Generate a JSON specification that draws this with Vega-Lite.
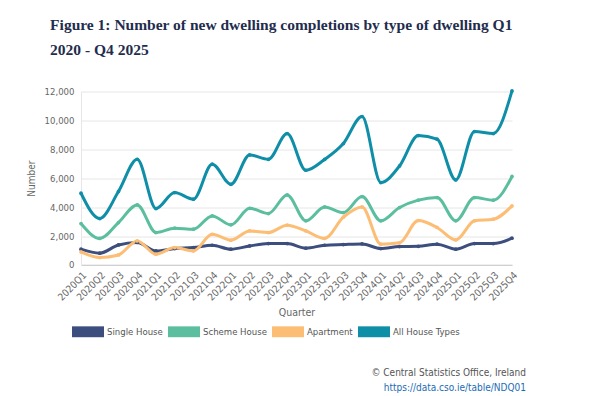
{
  "$schema": "https://vega.github.io/schema/vega-lite/v6.json",
  "background": "white",
  "padding": {"left": 26, "top": 17.5, "right": 10, "bottom": 5},
  "title": {
    "text": ["Figure 1: Number of new dwelling completions by type of dwelling Q1", "2020 - Q4 2025"],
    "anchor": "start",
    "frame": "bounds",
    "font": "Liberation Serif",
    "fontSize": 15.5,
    "fontWeight": "bold",
    "color": "#1f2d4e",
    "lineHeight": 25,
    "dx": 24,
    "offset": 26.5
  },
  "config": {
    "font": "DejaVu Sans Condensed, Liberation Sans",
    "view": {"stroke": null},
    "axis": {"labelFont": "DejaVu Sans Condensed, Liberation Sans", "titleFont": "DejaVu Sans Condensed, Liberation Sans", "labelColor": "#666666", "titleColor": "#666666", "labelFontSize": 9.5, "titleFontSize": 10, "titleFontWeight": "normal"}
  },
  "vconcat": [
    {
      "width": 431,
      "height": 173.4,
      "title": {
        "text": "© Central Statistics Office, Ireland",
        "subtitle": "https://data.cso.ie/table/NDQ01",
        "orient": "bottom",
        "anchor": "end",
        "frame": "group",
        "dx": 14,
        "offset": 50,
        "font": "DejaVu Sans Condensed, Liberation Sans",
        "fontSize": 10,
        "fontWeight": "normal",
        "color": "#555555",
        "subtitleFont": "DejaVu Sans Condensed, Liberation Sans",
        "subtitleFontSize": 10,
        "subtitleColor": "#1a6cb5",
        "subtitlePadding": 5
      },
      "data": {
        "values": [
          {"Quarter": "2020Q1", "Type": "Single House", "Number": 1090},
          {"Quarter": "2020Q2", "Type": "Single House", "Number": 810},
          {"Quarter": "2020Q3", "Type": "Single House", "Number": 1380},
          {"Quarter": "2020Q4", "Type": "Single House", "Number": 1550},
          {"Quarter": "2021Q1", "Type": "Single House", "Number": 970},
          {"Quarter": "2021Q2", "Type": "Single House", "Number": 1130},
          {"Quarter": "2021Q3", "Type": "Single House", "Number": 1200},
          {"Quarter": "2021Q4", "Type": "Single House", "Number": 1360},
          {"Quarter": "2022Q1", "Type": "Single House", "Number": 1090},
          {"Quarter": "2022Q2", "Type": "Single House", "Number": 1310},
          {"Quarter": "2022Q3", "Type": "Single House", "Number": 1480},
          {"Quarter": "2022Q4", "Type": "Single House", "Number": 1480},
          {"Quarter": "2023Q1", "Type": "Single House", "Number": 1160},
          {"Quarter": "2023Q2", "Type": "Single House", "Number": 1360},
          {"Quarter": "2023Q3", "Type": "Single House", "Number": 1410},
          {"Quarter": "2023Q4", "Type": "Single House", "Number": 1450},
          {"Quarter": "2024Q1", "Type": "Single House", "Number": 1130},
          {"Quarter": "2024Q2", "Type": "Single House", "Number": 1270},
          {"Quarter": "2024Q3", "Type": "Single House", "Number": 1290},
          {"Quarter": "2024Q4", "Type": "Single House", "Number": 1430},
          {"Quarter": "2025Q1", "Type": "Single House", "Number": 1090},
          {"Quarter": "2025Q2", "Type": "Single House", "Number": 1480},
          {"Quarter": "2025Q3", "Type": "Single House", "Number": 1480},
          {"Quarter": "2025Q4", "Type": "Single House", "Number": 1850},
          {"Quarter": "2020Q1", "Type": "Scheme House", "Number": 2860},
          {"Quarter": "2020Q2", "Type": "Scheme House", "Number": 1830},
          {"Quarter": "2020Q3", "Type": "Scheme House", "Number": 2930},
          {"Quarter": "2020Q4", "Type": "Scheme House", "Number": 4150},
          {"Quarter": "2021Q1", "Type": "Scheme House", "Number": 2240},
          {"Quarter": "2021Q2", "Type": "Scheme House", "Number": 2540},
          {"Quarter": "2021Q3", "Type": "Scheme House", "Number": 2470},
          {"Quarter": "2021Q4", "Type": "Scheme House", "Number": 3390},
          {"Quarter": "2022Q1", "Type": "Scheme House", "Number": 2770},
          {"Quarter": "2022Q2", "Type": "Scheme House", "Number": 3920},
          {"Quarter": "2022Q3", "Type": "Scheme House", "Number": 3550},
          {"Quarter": "2022Q4", "Type": "Scheme House", "Number": 4840},
          {"Quarter": "2023Q1", "Type": "Scheme House", "Number": 3050},
          {"Quarter": "2023Q2", "Type": "Scheme House", "Number": 4010},
          {"Quarter": "2023Q3", "Type": "Scheme House", "Number": 3620},
          {"Quarter": "2023Q4", "Type": "Scheme House", "Number": 4730},
          {"Quarter": "2024Q1", "Type": "Scheme House", "Number": 3050},
          {"Quarter": "2024Q2", "Type": "Scheme House", "Number": 3970},
          {"Quarter": "2024Q3", "Type": "Scheme House", "Number": 4480},
          {"Quarter": "2024Q4", "Type": "Scheme House", "Number": 4660},
          {"Quarter": "2025Q1", "Type": "Scheme House", "Number": 3050},
          {"Quarter": "2025Q2", "Type": "Scheme House", "Number": 4660},
          {"Quarter": "2025Q3", "Type": "Scheme House", "Number": 4480},
          {"Quarter": "2025Q4", "Type": "Scheme House", "Number": 6120},
          {"Quarter": "2020Q1", "Type": "Apartment", "Number": 900},
          {"Quarter": "2020Q2", "Type": "Apartment", "Number": 510},
          {"Quarter": "2020Q3", "Type": "Apartment", "Number": 690},
          {"Quarter": "2020Q4", "Type": "Apartment", "Number": 1660},
          {"Quarter": "2021Q1", "Type": "Apartment", "Number": 740},
          {"Quarter": "2021Q2", "Type": "Apartment", "Number": 1200},
          {"Quarter": "2021Q3", "Type": "Apartment", "Number": 970},
          {"Quarter": "2021Q4", "Type": "Apartment", "Number": 2120},
          {"Quarter": "2022Q1", "Type": "Apartment", "Number": 1710},
          {"Quarter": "2022Q2", "Type": "Apartment", "Number": 2350},
          {"Quarter": "2022Q3", "Type": "Apartment", "Number": 2240},
          {"Quarter": "2022Q4", "Type": "Apartment", "Number": 2750},
          {"Quarter": "2023Q1", "Type": "Apartment", "Number": 2350},
          {"Quarter": "2023Q2", "Type": "Apartment", "Number": 1830},
          {"Quarter": "2023Q3", "Type": "Apartment", "Number": 3300},
          {"Quarter": "2023Q4", "Type": "Apartment", "Number": 4010},
          {"Quarter": "2024Q1", "Type": "Apartment", "Number": 1430},
          {"Quarter": "2024Q2", "Type": "Apartment", "Number": 1530},
          {"Quarter": "2024Q3", "Type": "Apartment", "Number": 3070},
          {"Quarter": "2024Q4", "Type": "Apartment", "Number": 2590},
          {"Quarter": "2025Q1", "Type": "Apartment", "Number": 1730},
          {"Quarter": "2025Q2", "Type": "Apartment", "Number": 3050},
          {"Quarter": "2025Q3", "Type": "Apartment", "Number": 3160},
          {"Quarter": "2025Q4", "Type": "Apartment", "Number": 4080},
          {"Quarter": "2020Q1", "Type": "All House Types", "Number": 4960},
          {"Quarter": "2020Q2", "Type": "All House Types", "Number": 3210},
          {"Quarter": "2020Q3", "Type": "All House Types", "Number": 5080},
          {"Quarter": "2020Q4", "Type": "All House Types", "Number": 7310},
          {"Quarter": "2021Q1", "Type": "All House Types", "Number": 3900},
          {"Quarter": "2021Q2", "Type": "All House Types", "Number": 5010},
          {"Quarter": "2021Q3", "Type": "All House Types", "Number": 4550},
          {"Quarter": "2021Q4", "Type": "All House Types", "Number": 6970},
          {"Quarter": "2022Q1", "Type": "All House Types", "Number": 5580},
          {"Quarter": "2022Q2", "Type": "All House Types", "Number": 7610},
          {"Quarter": "2022Q3", "Type": "All House Types", "Number": 7310},
          {"Quarter": "2022Q4", "Type": "All House Types", "Number": 9090},
          {"Quarter": "2023Q1", "Type": "All House Types", "Number": 6550},
          {"Quarter": "2023Q2", "Type": "All House Types", "Number": 7300},
          {"Quarter": "2023Q3", "Type": "All House Types", "Number": 8400},
          {"Quarter": "2023Q4", "Type": "All House Types", "Number": 10270},
          {"Quarter": "2024Q1", "Type": "All House Types", "Number": 5700},
          {"Quarter": "2024Q2", "Type": "All House Types", "Number": 6850},
          {"Quarter": "2024Q3", "Type": "All House Types", "Number": 8950},
          {"Quarter": "2024Q4", "Type": "All House Types", "Number": 8700},
          {"Quarter": "2025Q1", "Type": "All House Types", "Number": 5880},
          {"Quarter": "2025Q2", "Type": "All House Types", "Number": 9230},
          {"Quarter": "2025Q3", "Type": "All House Types", "Number": 9090},
          {"Quarter": "2025Q4", "Type": "All House Types", "Number": 12040}
        ]
      },
      "encoding": {
        "x": {
          "field": "Quarter",
          "type": "ordinal",
          "sort": null,
          "scale": {"type": "point", "padding": 0},
          "axis": {
            "title": "Quarter",
            "labelAngle": -45,
            "labelPadding": 5,
            "labelFontSize": 10,
            "ticks": false,
            "domainColor": "#cccccc",
            "grid": false,
            "titlePadding": 5,
            "titleFontSize": 10.5
          }
        },
        "y": {
          "field": "Number",
          "type": "quantitative",
          "scale": {"domain": [0, 12000], "nice": false},
          "axis": {
            "title": "Number",
            "values": [0, 2000, 4000, 6000, 8000, 10000, 12000],
            "format": ",d",
            "ticks": false,
            "domain": true,
            "domainColor": "#e6e6e6",
            "gridColor": "#e6e6e6",
            "labelPadding": 7,
            "titlePadding": 8
          }
        },
        "color": {
          "field": "Type",
          "type": "nominal",
          "scale": {
            "domain": ["Single House", "Scheme House", "Apartment", "All House Types"],
            "range": ["#3c4e7d", "#5bbf9f", "#fcbd74", "#0f8ea8"]
          },
          "legend": {
            "title": null,
            "orient": "none",
            "legendX": -9,
            "legendY": 224,
            "direction": "horizontal",
            "symbolType": "M-1,-0.34H1V0.34H-1Z",
            "symbolSize": 1024,
            "symbolStrokeWidth": 0,
            "labelFont": "DejaVu Sans Condensed, Liberation Sans",
            "labelFontSize": 9.5,
            "labelColor": "#555555",
            "labelOffset": 3,
            "columnPadding": 5,
            "encode": {
              "symbols": {"update": {"fill": {"scale": "color", "field": "value"}, "opacity": {"value": 1}}}
            }
          }
        }
      },
      "layer": [
        {
          "mark": {"type": "line", "interpolate": "monotone", "strokeWidth": 3}
        },
        {
          "mark": {"type": "point", "filled": true, "size": 14, "opacity": 1}
        }
      ]
    }
  ]
}
